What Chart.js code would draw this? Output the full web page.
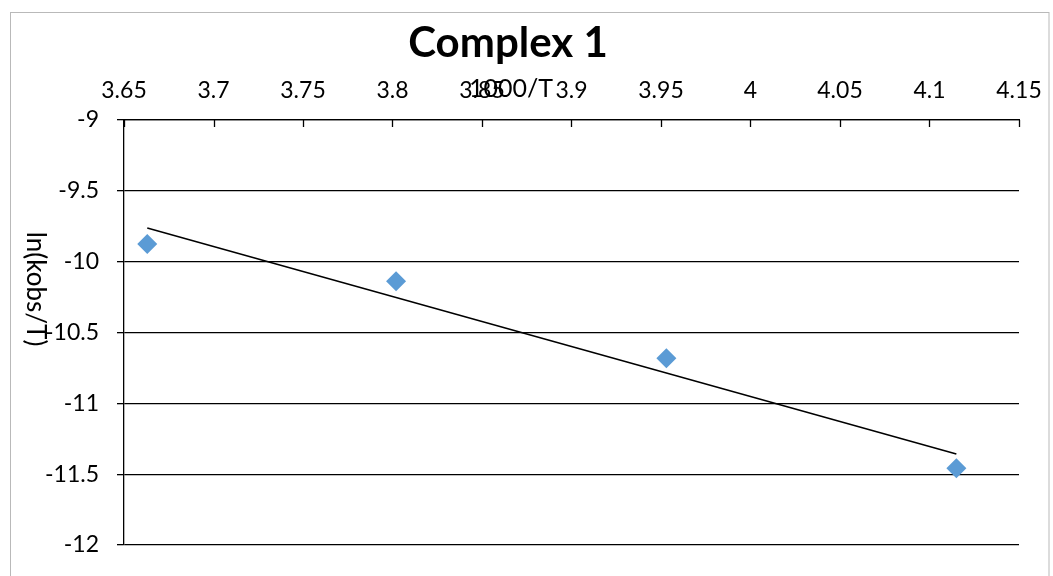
<!DOCTYPE html>
<html><head><meta charset="utf-8">
<script src="https://cdn.jsdelivr.net/npm/chart.js@4"></script>
<style>html,body{margin:0;padding:0;background:#fff;} canvas{display:block;}</style>
</head><body>
<canvas id="c" width="1053" height="576"></canvas>
<script>
const chartTitle = 'Complex 1';
const xAxisTitle = '1000/T';
const yAxisTitle = 'ln(kobs/T)';
const xValues = [3.663, 3.802, 3.953, 4.115];
const yValues = [-9.875, -10.139, -10.682, -11.459];
const trendY = [-9.762, -11.358];
const xTicks = [3.65, 3.7, 3.75, 3.8, 3.85, 3.9, 3.95, 4, 4.05, 4.1, 4.15];
const yTicks = [-9, -9.5, -10, -10.5, -11, -11.5, -12];
const FONT = 'Lato, "Open Sans", sans-serif';
const fmt = v => String(Number(Number(v).toFixed(3)));

const decor = {
  id: 'decor',
  beforeDraw(chart) {
    const ctx = chart.ctx;
    ctx.save();
    ctx.fillStyle = '#fff';
    ctx.fillRect(0, 0, chart.width, chart.height);
    ctx.strokeStyle = '#b9b9b9';
    ctx.lineWidth = 1;
    ctx.strokeRect(10.5, 12.5, 1038.5, 600);
    ctx.restore();
  },
  afterDraw(chart) {
    const ctx = chart.ctx, xs = chart.scales.x, a = chart.chartArea;
    ctx.save();
    ctx.strokeStyle = '#000';
    ctx.lineWidth = 1.3;
    xTicks.forEach(v => {
      const px = Math.round(xs.getPixelForValue(v)) + 0.5;
      ctx.beginPath(); ctx.moveTo(px, a.top); ctx.lineTo(px, a.top + 7); ctx.stroke();
    });
    ctx.fillStyle = '#000';
    ctx.textAlign = 'center';
    ctx.textBaseline = 'alphabetic';
    ctx.font = 'bold 42px ' + FONT;
    ctx.fillText(chartTitle, 508, 57);
    ctx.font = '25px ' + FONT;
    ctx.fillText(xAxisTitle, 511, 97);
    ctx.translate(35, 289);
    ctx.rotate(Math.PI / 2);
    ctx.textBaseline = 'middle';
    ctx.font = '26px ' + FONT;
    ctx.fillText(yAxisTitle, 0, 0);
    ctx.restore();
  }
};

new Chart(document.getElementById('c'), {
  type: 'scatter',
  data: {
    datasets: [
      {
        type: 'line',
        data: [{x: xValues[0], y: trendY[0]}, {x: xValues[xValues.length - 1], y: trendY[1]}],
        borderColor: '#000', borderWidth: 1.5, pointRadius: 0, fill: false, order: 2
      },
      {
        data: xValues.map((x, i) => ({x: x, y: yValues[i]})),
        pointStyle: 'rectRot', pointRadius: 10, pointHoverRadius: 10,
        backgroundColor: '#5B9BD5', borderColor: '#5B9BD5', borderWidth: 0, order: 1
      }
    ]
  },
  options: {
    responsive: false, animation: false, devicePixelRatio: 1,
    layout: {padding: {left: 0, right: 34, top: 0, bottom: 31}},
    plugins: {legend: {display: false}, tooltip: {enabled: false}, title: {display: false}},
    scales: {
      x: {
        type: 'linear', position: 'top', min: 3.65, max: 4.15,
        afterBuildTicks: s => { s.ticks = xTicks.map(v => ({value: v})); },
        afterFit: s => { s.height = 120; s.paddingLeft = 0; s.paddingRight = 0; },
        ticks: {font: {family: FONT, size: 23}, color: '#000', padding: 16, maxRotation: 0, autoSkip: false, callback: fmt},
        grid: {drawOnChartArea: false, drawTicks: false},
        border: {color: '#000', width: 1.3}
      },
      y: {
        type: 'linear', position: 'left', min: -12, max: -9,
        afterBuildTicks: s => { s.ticks = yTicks.map(v => ({value: v})); },
        afterFit: s => { s.width = 124; s.paddingTop = 0; s.paddingBottom = 0; },
        ticks: {font: {family: FONT, size: 23}, color: '#000', padding: 18, callback: fmt},
        grid: {color: '#000', lineWidth: 1.3, tickLength: 7},
        border: {color: '#000', width: 1.3}
      }
    }
  },
  plugins: [decor]
});
</script>
</body></html>
